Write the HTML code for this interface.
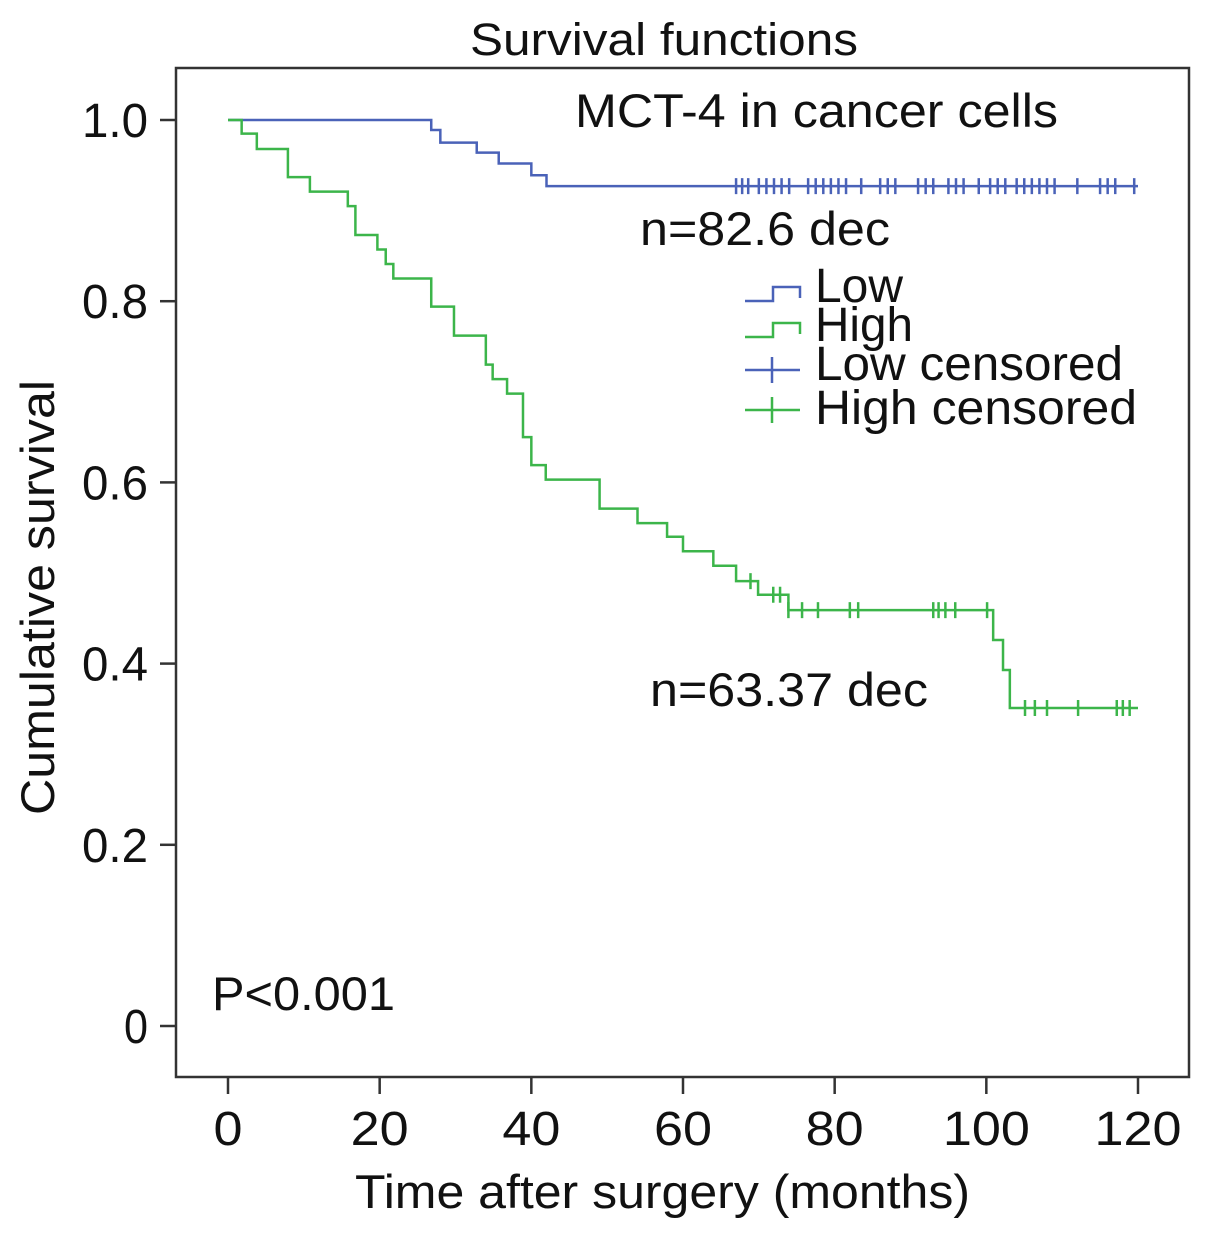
<!DOCTYPE html>
<html><head><meta charset="utf-8"><style>
body{margin:0;background:#fff}
svg{display:block;font-family:"Liberation Sans",Arial,sans-serif}
</style></head><body>
<svg id="chart" width="1205" height="1235" viewBox="0 0 1205 1235">
<rect x="0" y="0" width="1205" height="1235" fill="#fff"/>
<text x="470" y="55" font-size="45" textLength="388" lengthAdjust="spacingAndGlyphs" fill="#111">Survival functions</text>
<rect x="176" y="68" width="1013" height="1009" fill="none" stroke="#333" stroke-width="2.5"/>
<g id="yticks"></g>
<g id="xticks"></g>
<text transform="translate(54,815) rotate(-90)" font-size="47" textLength="435" lengthAdjust="spacingAndGlyphs" fill="#111">Cumulative survival</text>
<text x="355" y="1208" font-size="47" textLength="615" lengthAdjust="spacingAndGlyphs" fill="#111">Time after surgery (months)</text>
<text x="575" y="127" font-size="47" textLength="483" lengthAdjust="spacingAndGlyphs" fill="#111">MCT-4 in cancer cells</text>
<text x="640" y="245" font-size="47" textLength="250" lengthAdjust="spacingAndGlyphs" fill="#111">n=82.6 dec</text>
<text x="650" y="706" font-size="47" textLength="278" lengthAdjust="spacingAndGlyphs" fill="#111">n=63.37 dec</text>
<text x="212" y="1010" font-size="47" textLength="183" lengthAdjust="spacingAndGlyphs" fill="#111">P&lt;0.001</text>
<g id="series"></g>
<g font-size="48" fill="#111">
  <path d="M745 301 H773 V287 H800 V298" fill="none" stroke="#4a62b8" stroke-width="2.5"/>
  <text x="815" y="302" textLength="88" lengthAdjust="spacingAndGlyphs">Low</text>
  <path d="M745 337 H773 V323 H800 V334" fill="none" stroke="#3cb54a" stroke-width="2.5"/>
  <text x="815" y="341" textLength="98" lengthAdjust="spacingAndGlyphs">High</text>
  <path d="M745 370 H800 M772 357 V383" fill="none" stroke="#4a62b8" stroke-width="2.5"/>
  <text x="815" y="380" textLength="308" lengthAdjust="spacingAndGlyphs">Low censored</text>
  <path d="M745 410 H800 M772 397 V423" fill="none" stroke="#3cb54a" stroke-width="2.5"/>
  <text x="815" y="424" textLength="322" lengthAdjust="spacingAndGlyphs">High censored</text>
</g>
</svg>
<script>
const yTicks=[0,0.2,0.4,0.6,0.8,1.0];
const yTickLabels=["0","0.2","0.4","0.6","0.8","1.0"];
const xTicks=[0,20,40,60,80,100,120];
const lowTimes=[26.8,28,32.8,35.7,40,42];
const lowSurv=[0.989,0.975,0.964,0.952,0.939,0.927];
const lowCensor=[67,67.8,68.6,70,71,72,73,74,76.5,77.5,78.5,79.5,80.5,81.5,83.5,86,87,88,91,92,93,95,96,97,99,100.5,101.5,102.5,104,105,106,107,108,109,112,115,116,117,119.5];
const highTimes=[1.8,3.8,7.9,10.8,15.8,16.8,19.7,20.8,21.8,26.8,29.8,34,34.9,36.8,38.9,40,41.9,49,54,57.9,60,64,67,69.9,73.9,100.9,102.2,103.1];
const highSurv=[0.985,0.968,0.937,0.921,0.905,0.873,0.857,0.841,0.825,0.794,0.762,0.730,0.714,0.698,0.650,0.619,0.603,0.571,0.555,0.540,0.524,0.508,0.491,0.476,0.459,0.426,0.393,0.351];
const highCensor=[68.9,71.9,72.8,73.9,75.7,77.8,82,83.1,93,93.7,94.6,95.9,100.1,105.1,106.4,108,112.1,117.2,118,118.9];
const xMax=120;
const NS='http://www.w3.org/2000/svg';
const sx=t=>228+t*(1138-228)/120;
const sy=s=>1026-s*906;
function mk(tag,attrs,parent){const e=document.createElementNS(NS,tag);for(const k in attrs)e.setAttribute(k,attrs[k]);parent.appendChild(e);return e;}
const yg=document.getElementById('yticks'),xg=document.getElementById('xticks'),sg=document.getElementById('series');
yTicks.forEach((v,i)=>{
  const l=mk('line',{x1:160,x2:176,y1:sy(v),y2:sy(v),stroke:'#333','stroke-width':2.5},yg);
  
  
  const lab=yTickLabels[i];
  const t=mk('text',{x:148,y:sy(v)+17,'font-size':48,'text-anchor':'end',fill:'#111',textLength:lab.length>1?66:24,lengthAdjust:'spacingAndGlyphs'},yg);
  t.textContent=lab;
  
  
});
xTicks.forEach(v=>{
  const l=mk('line',{x1:sx(v),x2:sx(v),y1:1077,y2:1094,stroke:'#333','stroke-width':2.5},xg);
  
  
  const s=String(v);
  const t=mk('text',{x:sx(v),y:1145,'font-size':48,'text-anchor':'middle',fill:'#111',textLength:s.length*29,lengthAdjust:'spacingAndGlyphs'},xg);
  t.textContent=s;
  
  
});
function stepPath(times,surv){let d=`M${sx(0)} ${sy(1)}`;times.forEach((t,i)=>{d+=` H${sx(t)} V${sy(surv[i])}`;});d+=` H${sx(xMax)}`;return d;}
function survAt(times,surv,t){let s=1;times.forEach((tt,i)=>{if(tt<=t)s=surv[i];});return s;}
function drawSeries(name,times,surv,cens,color){
  const p=mk('path',{d:stepPath(times,surv),fill:'none',stroke:color,'stroke-width':2.5},sg);
  
  
  cens.forEach(t=>{
    const y=sy(survAt(times,surv,t));
    const c=mk('line',{x1:sx(t),x2:sx(t),y1:y-8,y2:y+8,stroke:color,'stroke-width':2.5},sg);
    
    
  });
}
drawSeries('low',lowTimes,lowSurv,lowCensor,'#4a62b8');
drawSeries('high',highTimes,highSurv,highCensor,'#3cb54a');
</script>
</body></html>
